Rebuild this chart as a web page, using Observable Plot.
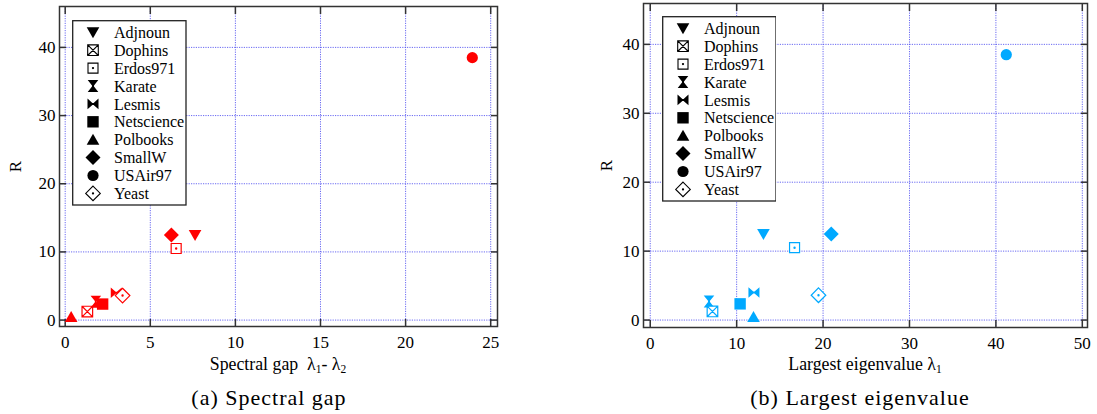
<!DOCTYPE html>
<html><head><meta charset="utf-8">
<script src="https://cdn.jsdelivr.net/npm/d3@7"></script>
<script src="https://cdn.jsdelivr.net/npm/@observablehq/plot@0.6"></script>
<style>
html,body{margin:0;padding:0;background:#fff;font-family:'Liberation Serif', serif;}
#root{position:relative;width:1097px;height:414px;overflow:hidden;color:#000;}
#root, #root div, #root svg, #root text{font-family:'Liberation Serif', serif !important;}
.panel{position:absolute;top:0;height:414px;}
.panel > svg{position:absolute;left:0;top:0;}
.xlabel{position:absolute;font-size:17.8px;line-height:20px;text-align:center;white-space:nowrap;}
.xlabel sub{font-size:11.5px;vertical-align:-3px;line-height:0;}
.caption{position:absolute;font-size:22px;line-height:26px;text-align:center;white-space:nowrap;width:400px;letter-spacing:1px;}
.legend{position:absolute;}
</style></head><body><div id="root"></div>
<script>
// ---- data ----
const names = ["Adjnoun","Dophins","Erdos971","Karate","Lesmis","Netscience","Polbooks","SmallW","USAir97","Yeast"];
const rValues = [12.5, 1.25, 10.5, 2.7, 4.0, 2.35, 0.45, 12.5, 38.5, 3.6];
const spectralGap = [7.63, 1.3, 6.52, 1.8, 3.0, 2.2, 0.35, 6.24, 23.92, 3.37];
const largestEigenvalue = [13.1, 7.2, 16.7, 6.8, 12.0, 10.4, 11.95, 20.95, 41.2, 19.47];
const hollowNames = ["Dophins","Erdos971","Yeast"];
const gapTicks = [0, 5, 10, 15, 20, 25];
const eigTicks = [0, 10, 20, 30, 40, 50];
const rTicks = [0, 10, 20, 30, 40];

const FONT = "'Liberation Serif', serif";

// ---- symbols ----
function poly(ctx, k, pts){ ctx.moveTo(pts[0][0]*k, pts[0][1]*k); for (let i=1;i<pts.length;i++) ctx.lineTo(pts[i][0]*k, pts[i][1]*k); ctx.closePath(); }
function mk(fn){ return {draw(ctx, size){ const k = Math.sqrt(size/Math.PI)/5.5; fn(ctx, k); }}; }
function dot(ctx,k){ const r=0.6*k; ctx.moveTo(r,0); ctx.arc(0,0,r,0,2*Math.PI); }
const SYMBOLS = {
  Adjnoun: mk((c,k)=>poly(c,k,[[-6.3,-5],[6.3,-5],[0,6]])),
  Dophins: mk((c,k)=>{ const h=5.3; poly(c,k,[[-h,-h],[h,-h],[h,h],[-h,h]]); c.moveTo(-h*k,-h*k); c.lineTo(h*k,h*k); c.moveTo(h*k,-h*k); c.lineTo(-h*k,h*k); }),
  Erdos971: mk((c,k)=>{ const h=5; poly(c,k,[[-h,-h],[h,-h],[h,h],[-h,h]]); dot(c,k); }),
  Karate: mk((c,k)=>poly(c,k,[[-5.3,-6],[5.3,-6],[1,-0.6],[1,0.6],[5.3,6],[-5.3,6],[-1,0.6],[-1,-0.6]])),
  Lesmis: mk((c,k)=>poly(c,k,[[-5.5,-5.3],[-0.6,-1],[0.6,-1],[5.5,-5.3],[5.5,5.3],[0.6,1],[-0.6,1],[-5.5,5.3]])),
  Netscience: mk((c,k)=>{ const h=5.7; poly(c,k,[[-h,-h],[h,-h],[h,h],[-h,h]]); }),
  Polbooks: mk((c,k)=>poly(c,k,[[-6.3,5],[6.3,5],[0,-6]])),
  SmallW: mk((c,k)=>{ const h=7.5; poly(c,k,[[0,-h],[h,0],[0,h],[-h,0]]); }),
  USAir97: mk((c,k)=>{ const r=5.6*k; c.moveTo(r,0); c.arc(0,0,r,0,2*Math.PI); }),
  Yeast: mk((c,k)=>{ const h=7.3; poly(c,k,[[0,-h],[h,0],[0,h],[-h,0]]); dot(c,k); })
};

const gridStyle = {stroke: "#5050f0", strokeOpacity: 0.85, strokeWidth: 1, strokeDasharray: "1.2,1.2"};
const tickStyle = {tickSize: -7, fill: "none", label: null, stroke: "#333", strokeWidth: 1.5};

function panel(o){
  const data = names.map((name,i)=>({name, x: o.xValues[i], y: rValues[i]}));
  const filled = data.filter(d=>!hollowNames.includes(d.name));
  const hollow = data.filter(d=>hollowNames.includes(d.name));
  const svg = Plot.plot({
    width: o.width, height: 352,
    marginLeft: o.marginLeft, marginRight: o.marginRight, marginTop: o.marginTop, marginBottom: o.marginBottom,
    x: {domain: o.xDomain}, y: {domain: o.yDomain},
    style: {fontFamily: FONT, fontSize: "17px", background: "transparent", color: "#000", overflow: "visible"},
    marks: [
      Plot.gridX(o.xTicks, gridStyle),
      Plot.gridY(rTicks, gridStyle),
      Plot.axisX(o.xTicks, {anchor: "bottom", tickSize: 0, tickPadding: 9, label: null}),
      Plot.axisY(rTicks, {anchor: "left", tickSize: 0, tickPadding: 4, label: "R", labelAnchor: "center", labelArrow: "none", labelOffset: o.labelOffset}),
      Plot.axisX(o.xTicks, {anchor: "bottom", ...tickStyle}),
      Plot.axisX(o.xTicks, {anchor: "top", ...tickStyle}),
      Plot.axisY(rTicks, {anchor: "left", ...tickStyle}),
      Plot.axisY(rTicks, {anchor: "right", ...tickStyle}),
      Plot.frame({stroke: "#333", strokeWidth: 1.5}),
      Plot.dot(filled, {x: "x", y: "y", r: 5.5, symbol: d => SYMBOLS[d.name], fill: o.color, stroke: "none"}),
      Plot.dot(hollow, {x: "x", y: "y", r: 5.5, symbol: d => SYMBOLS[d.name], fill: "white", stroke: o.color, strokeWidth: 1.2})
    ]
  });
  svg.setAttribute("font-family", FONT);
  return svg;
}

function legend(){
  const W = 114.7, H = 185.7;
  const svg = d3.create("svg").attr("width", W).attr("height", H).attr("font-family", FONT);
  svg.append("rect").attr("x",0.7).attr("y",0.7).attr("width",W-1.4).attr("height",H-1.4).attr("fill","white").attr("stroke","#222").attr("stroke-width",1.3);
  names.forEach((name,i)=>{
    const y = 12.3 + i*17.9;
    const hollow = hollowNames.includes(name);
    svg.append("path").attr("transform",`translate(21,${y})`)
      .attr("d", d3.symbol(SYMBOLS[name], Math.PI*5.5*5.5)())
      .attr("fill", hollow ? "white" : "black").attr("stroke", hollow ? "black" : "none").attr("stroke-width", 1.1);
    svg.append("text").attr("x",42).attr("y",y).attr("dy","0.35em")
      .attr("font-family", FONT).attr("font-size",16).text(name);
  });
  return svg.node();
}

const root = document.getElementById("root");
function addPanel(left, width, cfg, xlabelHTML, captionText, captionCenter, legendPos){
  const p = document.createElement("div");
  p.className = "panel"; p.style.left = left+"px"; p.style.width = width+"px";
  p.appendChild(panel({...cfg, width}));
  const xl = document.createElement("div");
  xl.className = "xlabel";
  xl.style.left = cfg.marginLeft+"px"; xl.style.width = (width-cfg.marginLeft-cfg.marginRight)+"px"; xl.style.top = "354px";
  xl.innerHTML = xlabelHTML;
  p.appendChild(xl);
  const cap = document.createElement("div");
  cap.className = "caption"; cap.style.left = (captionCenter-left-200)+"px"; cap.style.top = "385px";
  cap.textContent = captionText;
  p.appendChild(cap);
  const lg = document.createElement("div");
  lg.className = "legend"; lg.style.left = (legendPos[0]-left)+"px"; lg.style.top = legendPos[1]+"px";
  lg.appendChild(legend());
  p.appendChild(lg);
  root.appendChild(p);
}

addPanel(0, 560, {xValues: spectralGap, xTicks: gapTicks, xDomain: [-0.335, 25.4], yDomain: [-0.94, 46.0], color: "#ff0000",
  marginLeft: 59, marginRight: 63, marginTop: 6, marginBottom: 26, labelOffset: 51},
  "Spectral gap&nbsp; λ<sub>1</sub>- λ<sub>2</sub>", "(a) Spectral gap", 269, [72, 20]);
addPanel(560, 537, {xValues: largestEigenvalue, xTicks: eigTicks, xDomain: [-0.78, 50.6], yDomain: [-1.08, 45.93], color: "#00a9ff",
  marginLeft: 83, marginRight: 10, marginTop: 3, marginBottom: 25, labelOffset: 44},
  "Largest eigenvalue λ<sub>1</sub>", "(b) Largest eigenvalue", 860, [661.5, 16.3]);
</script></body></html>
